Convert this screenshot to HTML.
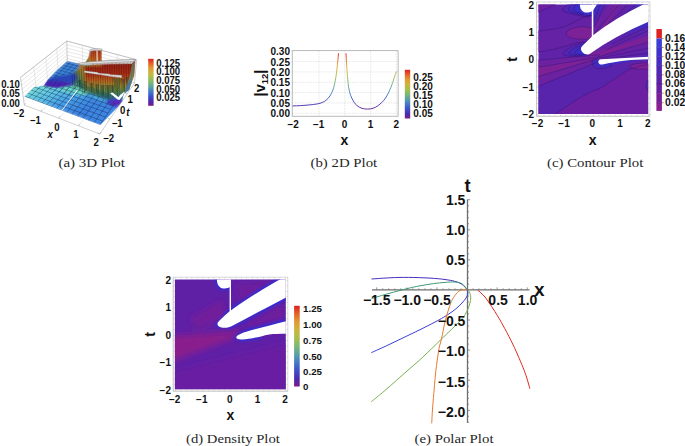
<!DOCTYPE html>
<html>
<head>
<meta charset="utf-8">
<title>Plots</title>
<style>
html,body{margin:0;padding:0;background:#fff;}
body{width:685px;height:446px;overflow:hidden;}
svg{display:block;}
.tk{font-family:"Liberation Sans",sans-serif;font-weight:bold;font-size:10px;fill:#111;}
.tk3{font-family:"Liberation Sans",sans-serif;font-weight:bold;font-size:9.6px;fill:#111;}
.tkp{font-family:"Liberation Sans",sans-serif;font-weight:bold;font-size:14px;fill:#111;}
.ax{font-family:"Liberation Sans",sans-serif;font-weight:bold;font-size:14px;fill:#111;}
.cap{font-family:"Liberation Serif",serif;font-size:13px;fill:#262626;}
</style>
</head>
<body>
<svg width="685" height="446" viewBox="0 0 685 446">
<defs>
<linearGradient id="rainbowV" x1="0" y1="1" x2="0" y2="0">
<stop offset="0" stop-color="#781c86"/>
<stop offset="0.1" stop-color="#4a2cb0"/>
<stop offset="0.2" stop-color="#3f4fcb"/>
<stop offset="0.3" stop-color="#447bc8"/>
<stop offset="0.4" stop-color="#5ba1a6"/>
<stop offset="0.5" stop-color="#7db874"/>
<stop offset="0.6" stop-color="#a7be4e"/>
<stop offset="0.7" stop-color="#cdb43d"/>
<stop offset="0.8" stop-color="#e39a33"/>
<stop offset="0.9" stop-color="#e4632a"/>
<stop offset="1" stop-color="#db2121"/>
</linearGradient>
</defs>
<rect x="0" y="0" width="685" height="446" fill="#ffffff"/>

<!-- ===================== (a) 3D Plot ===================== -->
<g id="plotA">
<defs>
<linearGradient id="gAwall" gradientUnits="userSpaceOnUse" x1="0" y1="63" x2="0" y2="103"><stop offset="0" stop-color="#962214"/><stop offset="0.27" stop-color="#ac2e18"/><stop offset="0.42" stop-color="#ba5c20"/><stop offset="0.54" stop-color="#a4842e"/><stop offset="0.68" stop-color="#668a44"/><stop offset="0.82" stop-color="#357c7a"/><stop offset="0.94" stop-color="#3566b8"/><stop offset="1" stop-color="#3a5ccc"/></linearGradient>
<linearGradient id="gAff" gradientUnits="userSpaceOnUse" x1="48" y1="84" x2="64" y2="120"><stop offset="0" stop-color="#72d8dc"/><stop offset="0.3" stop-color="#5cc0e6"/><stop offset="0.6" stop-color="#469ce6"/><stop offset="1" stop-color="#3a80e0"/></linearGradient>
<linearGradient id="gAsv" gradientUnits="userSpaceOnUse" x1="0" y1="73" x2="0" y2="89"><stop offset="0" stop-color="#2f68cc"/><stop offset="0.4" stop-color="#2a40b8"/><stop offset="0.8" stop-color="#4a22b0"/><stop offset="1" stop-color="#3c34c4"/></linearGradient>
<linearGradient id="gAwl" gradientUnits="userSpaceOnUse" x1="68" y1="84" x2="90" y2="68"><stop offset="0" stop-color="#2a4cb4"/><stop offset="0.22" stop-color="#2c6c80"/><stop offset="0.48" stop-color="#587e44"/><stop offset="0.72" stop-color="#a47c2c"/><stop offset="1" stop-color="#b4481c"/></linearGradient>
<linearGradient id="gAtow" gradientUnits="userSpaceOnUse" x1="0" y1="49" x2="0" y2="64"><stop offset="0" stop-color="#a8341a"/><stop offset="0.5" stop-color="#bc501e"/><stop offset="1" stop-color="#b87428"/></linearGradient>
<linearGradient id="gAsk" gradientUnits="userSpaceOnUse" x1="80" y1="65" x2="91" y2="54"><stop offset="0" stop-color="#3a7a6a"/><stop offset="0.4" stop-color="#748034"/><stop offset="0.75" stop-color="#a8702a"/><stop offset="1" stop-color="#b4501e"/></linearGradient>
<clipPath id="clipFF"><polygon points="24.7,96.7 34.2,87.3 43.6,86.2 58.4,88.0 70.0,85.0 78.0,84.0 86.0,90.0 98.0,95.0 106.0,100.0 117.0,104.0 117.9,106.6 100.4,124.8"/></clipPath>
<clipPath id="clipBL"><polygon points="49.1,78.4 67.3,60.9 79.8,63.9 78.1,68.0 72.7,73.6 62.1,76.0"/></clipPath>
<clipPath id="clipSil"><polygon points="24.5,96.7 34.2,87.0 43.6,85.4 49.1,78.0 55.8,70.8 67.3,60.7 81.0,64.0 85.0,62.5 88.0,58.0 89.7,51.0 89.7,49.8 101.9,49.3 101.9,62.2 135.6,59.4 134.4,75.0 129.2,90.0 124.5,93.0 123.2,96.5 122.4,101.6 118.1,106.8 100.4,125.0"/></clipPath>
<filter id="blA" x="-10%" y="-10%" width="120%" height="120%"><feGaussianBlur stdDeviation="1.1"/></filter>
<filter id="blA2" x="-10%" y="-10%" width="120%" height="120%"><feGaussianBlur stdDeviation="0.35"/></filter>
</defs>
<g stroke="#cecece" stroke-width="0.45" fill="none">
<line x1="20.5" y1="77.4" x2="66.8" y2="41.0"/>
<line x1="21.0" y1="81.3" x2="66.9" y2="44.5"/>
<line x1="21.6" y1="85.3" x2="67.0" y2="48.0"/>
<line x1="22.1" y1="89.2" x2="67.1" y2="51.5"/>
<line x1="22.7" y1="93.2" x2="67.2" y2="55.0"/>
<line x1="23.2" y1="97.1" x2="67.3" y2="58.5"/>
<line x1="23.8" y1="101.1" x2="67.4" y2="62.0"/>
<line x1="33.8" y1="67.0" x2="36.7" y2="93.7"/>
<line x1="45.8" y1="57.5" x2="47.9" y2="83.4"/>
<line x1="56.8" y1="48.9" x2="58.2" y2="74.0"/>
<line x1="66.8" y1="41.0" x2="136.7" y2="59.8"/>
<line x1="66.9" y1="44.5" x2="136.4" y2="63.1"/>
<line x1="67.0" y1="48.0" x2="136.1" y2="66.4"/>
<line x1="67.1" y1="51.5" x2="135.8" y2="69.8"/>
<line x1="67.2" y1="55.0" x2="135.4" y2="73.0"/>
<line x1="67.3" y1="58.5" x2="135.1" y2="76.4"/>
<line x1="67.4" y1="62.0" x2="134.8" y2="79.7"/>
<line x1="82.5" y1="45.2" x2="82.6" y2="69.4"/>
<line x1="99.4" y1="49.8" x2="98.7" y2="73.7"/>
<line x1="117.4" y1="54.6" x2="116.0" y2="78.2"/>
<line x1="40.9" y1="111.4" x2="45.9" y2="106.4"/>
<line x1="58.9" y1="118.3" x2="63.7" y2="112.9"/>
<line x1="78.5" y1="125.8" x2="83.0" y2="120.1"/>
</g>
<g stroke="#a2a2a2" stroke-width="0.55" fill="none">
<path d="M20.5,77.4 L66.8,41 L136.7,59.8 M66.8,41 L67.3,62 M20.5,77.4 L24.3,105"/>
</g>
<g clip-path="url(#clipSil)"><g filter="url(#blA)">
<polygon points="24.5,96.7 34.2,87.0 43.6,85.4 49.1,78.0 55.8,70.8 67.3,60.7 81.0,64.0 85.0,62.5 88.0,58.0 89.7,51.0 89.7,49.8 101.9,49.3 101.9,62.2 135.6,59.4 134.4,75.0 129.2,90.0 124.5,93.0 123.2,96.5 122.4,101.6 118.1,106.8 100.4,125.0" fill="#3b82d8"/>
<polygon points="49.1,78.4 67.3,60.9 79.8,63.9 78.1,68.0 72.7,73.6 62.1,76.0" fill="#3b82da"/>
<polygon points="47.0,78.4 62.1,76.0 72.7,73.6 80.0,76.0 79.0,87.0 73.5,88.0 58.4,89.5 42.0,87.5" fill="url(#gAsv)"/>
<polygon points="68.0,76.0 72.7,73.6 78.1,68.0 79.8,63.9 84.0,65.5 91.0,66.0 91.0,96.0 81.5,92.5 76.0,88.5 66.0,88.5" fill="url(#gAwl)"/>
<polygon points="85.0,64.0 136.0,60.0 135.0,75.0 130.0,90.0 125.0,94.0 123.0,99.0 119.0,103.0 116.5,104.6 104.4,101.9 96.3,97.2 88.0,94.6 85.0,93.3" fill="url(#gAwall)"/>
<path d="M79.8,64.5 C85,63.5 88,59 89.9,51.5 L91,66 L84,66 Z" fill="url(#gAsk)"/>
<polygon points="89.9,66 89.9,49.8 101.9,49.3 101.9,66" fill="url(#gAtow)"/>
<polygon points="24.7,96.7 34.2,87.3 43.6,86.6 58.4,88.6 73.5,87.1 81.5,92.5 96.3,97.2 104.4,101.9 116.5,104.6 117.9,106.6 100.4,124.8" fill="url(#gAff)"/>
<polygon points="44.5,86 50,81.5 62,82.3 72.7,83.5 71,87.6 58,88.9 49,87.6" fill="#4a24b0"/>
<polygon points="50.3,80 53.9,76.4 65.6,75.2 76.2,72.9 77.4,78.6 72.7,83 62.1,81.6" fill="#2a44b6"/>
</g></g>
<polygon points="24.7,96.7 34.2,87.3 43.6,86.6 58.4,88.6 70,87.6 67,97 50,101" fill="url(#gAff)"/>
<g clip-path="url(#clipSil)"><g filter="url(#blA)">
<polygon points="88,94 104.4,101.9 117.9,106.6 100.4,124.8 84,118 96,104" fill="#3d86e2"/>
<polygon points="56,88.5 68,86 76,84.5 82,89 88,93 84,96 72,93.5 62,91.5" fill="#68d4cc"/>
<polygon points="72,86.5 77,84 84,89.5 90,93 86,93.5 80,91" fill="#62c09a"/>
<polygon points="86,92 98,96 108,100.5 104,102 92,97.5" fill="#4aa8d8"/>
<polygon points="107,101 113,99 122.4,99.5 122.4,101.8 118,107.2 112,106.5 108,104" fill="#4434c4"/>
<polygon points="111,101.8 117,100.6 121.8,101.2 118.5,105 113,104.6" fill="#5a2cb4"/>
</g></g>
<g clip-path="url(#clipSil)"><g filter="url(#blA2)">
<g stroke="#200a04" stroke-width="0.6" stroke-opacity="0.5" fill="none">
<line x1="72.0" y1="74.0" x2="72.9" y2="86.8"/>
<line x1="74.3" y1="72.6" x2="75.2" y2="88.6"/>
<line x1="76.7" y1="71.2" x2="77.6" y2="87.6"/>
<line x1="79.0" y1="69.8" x2="79.9" y2="89.7"/>
<line x1="81.4" y1="68.4" x2="82.3" y2="92.7"/>
<line x1="83.7" y1="67.0" x2="84.6" y2="93.8"/>
<line x1="86.1" y1="65.4" x2="87.0" y2="90.9"/>
<line x1="88.4" y1="65.3" x2="89.3" y2="91.8"/>
<line x1="90.8" y1="65.1" x2="91.7" y2="91.5"/>
<line x1="93.1" y1="64.9" x2="94.0" y2="94.0"/>
<line x1="95.5" y1="64.8" x2="96.4" y2="92.5"/>
<line x1="97.8" y1="64.6" x2="98.7" y2="95.1"/>
<line x1="100.2" y1="64.4" x2="101.1" y2="96.6"/>
<line x1="102.5" y1="64.3" x2="103.4" y2="95.3"/>
<line x1="104.9" y1="64.1" x2="105.8" y2="97.8"/>
<line x1="107.2" y1="63.9" x2="108.1" y2="97.8"/>
<line x1="109.6" y1="63.8" x2="110.5" y2="95.5"/>
<line x1="111.9" y1="63.6" x2="112.8" y2="98.7"/>
<line x1="114.3" y1="63.4" x2="115.2" y2="97.7"/>
<line x1="116.6" y1="63.3" x2="117.5" y2="98.5"/>
<line x1="119.0" y1="63.1" x2="119.9" y2="95.7"/>
<line x1="121.3" y1="63.0" x2="122.2" y2="95.7"/>
<line x1="123.7" y1="62.8" x2="124.6" y2="92.3"/>
<line x1="126.0" y1="62.6" x2="126.9" y2="88.7"/>
<line x1="128.4" y1="62.5" x2="129.3" y2="88.6"/>
<line x1="130.7" y1="62.3" x2="131.6" y2="87.6"/>
<line x1="133.1" y1="62.1" x2="134.0" y2="83.1"/>
</g>
<g fill="#14302c" fill-opacity="0.42">
<polygon points="80.0,90.0 78.0,80.0 81.2,80.0"/>
<polygon points="86.0,93.0 83.8,81.0 87.3,81.0"/>
<polygon points="92.0,96.0 89.6,83.0 93.4,83.0"/>
<polygon points="97.5,98.0 95.1,84.0 98.9,84.0"/>
<polygon points="103.0,100.0 100.4,85.0 104.6,85.0"/>
<polygon points="108.5,101.0 105.9,85.0 110.1,85.0"/>
<polygon points="113.0,99.0 110.6,85.0 114.4,85.0"/>
<polygon points="124.0,93.0 121.6,79.0 125.4,79.0"/>
<polygon points="127.5,90.0 125.3,77.0 128.8,77.0"/>
</g>
<polygon points="78,86 84,90 96,94.5 106,99 112,100 112,96 100,90 88,86 80,82" fill="#1e4a4a" fill-opacity="0.3"/>
</g></g>
<g stroke="#0c1a3c" stroke-width="0.45" stroke-opacity="0.8" fill="none" clip-path="url(#clipFF)">
<line x1="24.3" y1="96.2" x2="54.2" y2="68.9"/>
<line x1="28.6" y1="97.9" x2="58.2" y2="70.1"/>
<line x1="33.0" y1="99.5" x2="62.4" y2="71.3"/>
<line x1="37.5" y1="101.3" x2="66.6" y2="72.6"/>
<line x1="42.1" y1="103.0" x2="70.9" y2="73.8"/>
<line x1="46.7" y1="104.8" x2="75.2" y2="75.1"/>
<line x1="51.5" y1="106.7" x2="79.7" y2="76.5"/>
<line x1="56.4" y1="108.5" x2="84.2" y2="77.8"/>
<line x1="61.4" y1="110.5" x2="88.9" y2="79.2"/>
<line x1="66.5" y1="112.4" x2="93.6" y2="80.6"/>
<line x1="71.7" y1="114.4" x2="98.4" y2="82.0"/>
<line x1="77.1" y1="116.5" x2="103.3" y2="83.5"/>
<line x1="82.6" y1="118.6" x2="108.3" y2="85.0"/>
<line x1="88.2" y1="120.7" x2="113.5" y2="86.5"/>
<line x1="93.9" y1="122.9" x2="118.7" y2="88.0"/>
<line x1="99.8" y1="125.2" x2="124.0" y2="89.6"/>
<line x1="24.3" y1="96.2" x2="99.8" y2="125.2"/>
<line x1="27.7" y1="93.1" x2="102.6" y2="121.0"/>
<line x1="31.1" y1="90.0" x2="105.4" y2="117.0"/>
<line x1="34.3" y1="87.0" x2="108.0" y2="113.1"/>
<line x1="37.5" y1="84.2" x2="110.6" y2="109.3"/>
<line x1="40.6" y1="81.3" x2="113.1" y2="105.6"/>
<line x1="43.6" y1="78.6" x2="115.5" y2="102.1"/>
<line x1="46.5" y1="75.9" x2="117.9" y2="98.6"/>
<line x1="49.3" y1="73.3" x2="120.2" y2="95.3"/>
<line x1="52.1" y1="70.8" x2="122.4" y2="92.0"/>
</g>
<g stroke="#0c1a3c" stroke-width="0.4" stroke-opacity="0.75" fill="none" clip-path="url(#clipBL)">
<line x1="42.4" y1="83.4" x2="67.5" y2="60.5"/>
<line x1="46.6" y1="84.8" x2="71.4" y2="61.5"/>
<line x1="50.9" y1="86.2" x2="75.4" y2="62.6"/>
<line x1="55.2" y1="87.6" x2="79.5" y2="63.6"/>
<line x1="59.6" y1="89.1" x2="83.6" y2="64.7"/>
<line x1="64.1" y1="90.5" x2="87.8" y2="65.8"/>
<line x1="68.7" y1="92.1" x2="92.1" y2="66.9"/>
<line x1="73.4" y1="93.6" x2="96.5" y2="68.1"/>
<line x1="43.6" y1="82.4" x2="85.9" y2="96.2"/>
<line x1="46.5" y1="79.7" x2="88.5" y2="93.1"/>
<line x1="49.3" y1="77.1" x2="91.1" y2="90.0"/>
<line x1="52.1" y1="74.6" x2="93.6" y2="87.1"/>
<line x1="54.8" y1="72.1" x2="96.0" y2="84.2"/>
<line x1="57.5" y1="69.6" x2="98.3" y2="81.4"/>
<line x1="60.1" y1="67.3" x2="100.6" y2="78.7"/>
<line x1="62.6" y1="65.0" x2="102.9" y2="76.0"/>
<line x1="65.1" y1="62.7" x2="105.1" y2="73.4"/>
<line x1="67.5" y1="60.5" x2="107.2" y2="70.9"/>
</g>
<g stroke="#0c1430" stroke-width="0.4" stroke-opacity="0.55" fill="none">
<line x1="53.1" y1="78.7" x2="46.0" y2="88.8"/>
<line x1="57.3" y1="80.0" x2="50.3" y2="90.2"/>
<line x1="61.5" y1="81.3" x2="54.6" y2="91.6"/>
<line x1="65.9" y1="82.7" x2="59.0" y2="93.1"/>
<line x1="70.3" y1="84.1" x2="63.6" y2="94.6"/>
<line x1="74.8" y1="85.5" x2="68.2" y2="96.1"/>
</g>
<g stroke="#200a04" stroke-width="0.5" stroke-opacity="0.35" fill="none"><path d="M91.5,51 L91.8,62 M93.6,51 L94,62 M95.4,51 L95.8,62 M99,51 L99.4,62 M100.8,51 L101,62 M88,58 L87.4,63.5 M85.5,62 L84.6,64"/></g>
<line x1="97" y1="50" x2="97.2" y2="62.5" stroke="#ffffff" stroke-width="0.9"/>
<path d="M89.4,50.4 C91,48.5 95,48 102,48.9 L102,50.7 C96,50.3 92,50.7 89.4,51.8 Z" fill="#cfcfcf" stroke="#666" stroke-width="0.25"/>
<polygon points="76.7,63.4 90.9,61.6 110,60.3 135.4,59.2 135.4,60.6 131.6,64 110,64.2 84.7,65.4 76.7,64.2" fill="#c6c6c6" stroke="#555" stroke-width="0.3"/>
<path d="M80,63.6 L110,61.8 L133,60.6" stroke="#ededed" stroke-width="0.8" fill="none"/>
<path d="M78,64.1 L110,62.8 L134,61.4" stroke="#6a6a6a" stroke-width="0.25" fill="none"/>
<path d="M92,64.4 L131,63.3" stroke="#d04a34" stroke-width="0.45" stroke-dasharray="2.2 1.6" fill="none"/>
<polygon points="84.2,70.7 98,72.3 98,72.9 110,74 110,74.6 121.8,75.3 121.8,77.9 110,76.6 100.8,74.9 84.2,72.6" fill="#dedede" stroke="#5a5a5a" stroke-width="0.3"/>
<path d="M100,74.5 L121,77.4" stroke="#d04a34" stroke-width="0.35" stroke-dasharray="2 1.6" fill="none"/>
<g filter="url(#blA2)"><polygon points="135,62 134.2,75 129.2,90 126.5,88 130.5,72 132,64" fill="#5aa070" opacity="0.6"/>
<polygon points="132.5,76 129.2,90 125,93.5 126.5,86" fill="#3a6cc0" opacity="0.7"/></g>
<g filter="url(#blA2)"><polygon points="112.5,78 121.8,78.4 117.5,96.5" fill="#3c5a28" fill-opacity="0.55"/></g>
<polygon points="110,93.2 112.5,92.6 118.6,97.2 120,95 124.6,91.6 123,95.5 119.4,100 117.6,99.4" fill="#ffffff"/>
<line x1="61.3" y1="111.3" x2="77.5" y2="89.8" stroke="#ffffff" stroke-width="0.9"/>
<g stroke="#a8a8a8" stroke-width="0.55" fill="none">
<path d="M24.3,105 L99.8,134 L134.5,83 L136.7,59.8"/>
</g>
<g stroke="#9a9a9a" stroke-width="0.5" fill="none">
<line x1="24.3" y1="105.0" x2="25.5" y2="103.0"/>
<line x1="40.9" y1="111.4" x2="42.1" y2="109.4"/>
<line x1="58.9" y1="118.3" x2="60.1" y2="116.3"/>
<line x1="78.5" y1="125.8" x2="79.7" y2="123.8"/>
<line x1="99.8" y1="134.0" x2="101.0" y2="132.0"/>
<line x1="99.8" y1="134.0" x2="97.6" y2="133.2"/>
<line x1="110.0" y1="119.0" x2="107.8" y2="118.2"/>
<line x1="119.0" y1="105.7" x2="116.8" y2="104.9"/>
<line x1="127.2" y1="93.8" x2="125.0" y2="93.0"/>
<line x1="134.5" y1="83.0" x2="132.3" y2="82.2"/>
</g>
<g class="tk3">
<text transform="translate(19.8,88.0) scale(1,1.09)" text-anchor="end">0.10</text>
<text transform="translate(19.8,97.4) scale(1,1.09)" text-anchor="end">0.05</text>
<text transform="translate(19.8,106.6) scale(1,1.09)" text-anchor="end">0.00</text>
<text transform="translate(18.8,116.9) scale(1,1.09)" text-anchor="middle">−2</text>
<text transform="translate(35.3,123.5) scale(1,1.09)" text-anchor="middle">−1</text>
<text transform="translate(56.8,130.6) scale(1,1.09)" text-anchor="middle">0</text>
<text transform="translate(75.8,138.0) scale(1,1.09)" text-anchor="middle">1</text>
<text transform="translate(96.1,145.5) scale(1,1.09)" text-anchor="middle">2</text>
<text transform="translate(108.5,141.8) scale(1,1.09)" text-anchor="middle">−2</text>
<text transform="translate(117.1,126.9) scale(1,1.09)" text-anchor="middle">−1</text>
<text transform="translate(122.6,114.3) scale(1,1.09)" text-anchor="middle">0</text>
<text transform="translate(130.1,102.5) scale(1,1.09)" text-anchor="middle">1</text>
<text transform="translate(136.7,92.3) scale(1,1.09)" text-anchor="middle">2</text>
<text transform="translate(50.2,138.3) scale(1,1.09)" text-anchor="middle" font-style="italic">x</text>
<text transform="translate(127.8,115.9) scale(1,1.09)" text-anchor="middle" font-style="italic">t</text>
</g>
<rect x="148.2" y="58.8" width="5.4" height="47" fill="url(#rainbowV)"/>
<g class="tk3">
<text transform="translate(156.2,66.9) scale(1,1.09)" text-anchor="start">0.125</text>
<text transform="translate(156.2,75.3) scale(1,1.09)" text-anchor="start">0.100</text>
<text transform="translate(156.2,84.0) scale(1,1.09)" text-anchor="start">0.075</text>
<text transform="translate(156.2,92.7) scale(1,1.09)" text-anchor="start">0.050</text>
<text transform="translate(156.2,101.2) scale(1,1.09)" text-anchor="start">0.025</text>
</g>
</g>

<!-- ===================== (b) 2D Plot ===================== -->
<g id="plotB">
<defs>
<linearGradient id="gB" gradientUnits="userSpaceOnUse" x1="0" y1="111" x2="0" y2="53">
<stop offset="0" stop-color="#781c86"/>
<stop offset="0.1" stop-color="#4a2cb0"/>
<stop offset="0.2" stop-color="#3f4fcb"/>
<stop offset="0.3" stop-color="#447bc8"/>
<stop offset="0.4" stop-color="#5ba1a6"/>
<stop offset="0.5" stop-color="#7db874"/>
<stop offset="0.6" stop-color="#a7be4e"/>
<stop offset="0.7" stop-color="#cdb43d"/>
<stop offset="0.8" stop-color="#e39a33"/>
<stop offset="0.9" stop-color="#e4632a"/>
<stop offset="1" stop-color="#db2121"/>
</linearGradient>
</defs>
<!-- grid -->
<g stroke="#d4d4d4" stroke-width="0.55" stroke-dasharray="1.6 1" fill="none">
<line x1="292.2" y1="61.6" x2="398.1" y2="61.6"/>
<line x1="292.2" y1="71.9" x2="398.1" y2="71.9"/>
<line x1="292.2" y1="82.3" x2="398.1" y2="82.3"/>
<line x1="292.2" y1="92.6" x2="398.1" y2="92.6"/>
<line x1="292.2" y1="102.9" x2="398.1" y2="102.9"/>
<line x1="292.2" y1="113.2" x2="398.1" y2="113.2"/>
<line x1="318.9" y1="50.7" x2="318.9" y2="116.2"/>
<line x1="344.8" y1="50.7" x2="344.8" y2="116.2"/>
<line x1="370.6" y1="50.7" x2="370.6" y2="116.2"/>
<line x1="396.3" y1="50.7" x2="396.3" y2="116.2"/>
</g>
<rect x="292.2" y="50.7" width="105.9" height="65.5" fill="none" stroke="#9a9a9a" stroke-width="0.7"/>
<!-- curves -->
<path d="M292.6,105.9 C298,105.8 303,105.5 307.1,105.1 C312,104.7 315.5,104.3 318.9,103.6 C322,102.8 324,101.8 325.9,100.4 C327.8,99 329.3,97.2 330.6,94.9 C332.3,92 333.6,88.5 334.6,84 C335.6,79.5 336.3,75 336.9,69.8 C337.6,63.5 338.1,58 338.5,53.3" fill="none" stroke="url(#gB)" stroke-width="0.95"/>
<path d="M346,53.3 C346.3,60 346.7,66 347.1,71.4 C347.5,77 348,82.5 348.6,87.1 C349.3,91.5 350.3,95 351.8,98.1 C353.3,101.3 355,103.8 357.3,105.9 C360,108 363.5,109.1 367.5,109.1 C371.5,109.1 375,107.9 377.7,105.9 C380.7,103.7 383.3,101.3 385.5,98.1 C387.7,94.8 389.5,91.2 391,87.1 C392.3,83.8 393.3,80.8 394.2,77.7 C395,75.2 395.8,73.2 396.5,71.4" fill="none" stroke="url(#gB)" stroke-width="0.95"/>
<!-- y tick labels -->
<g class="tk" text-anchor="end">
<text x="290" y="55.4">0.30</text>
<text x="290" y="65.7">0.25</text>
<text x="290" y="76">0.20</text>
<text x="290" y="86.2">0.15</text>
<text x="290" y="96.5">0.10</text>
<text x="290" y="106.7">0.05</text>
<text x="290" y="117">0.00</text>
</g>
<!-- x tick labels -->
<g class="tk" text-anchor="middle">
<text x="293.2" y="127.5">−2</text>
<text x="318.7" y="127.5">−1</text>
<text x="344.5" y="127.5">0</text>
<text x="370.6" y="127.5">1</text>
<text x="396.2" y="127.5">2</text>
</g>
<text class="ax" x="344.5" y="144.5" text-anchor="middle">x</text>
<text class="ax" transform="translate(265.2,83) rotate(-90)" text-anchor="middle" style="font-size:14.5px">|v<tspan font-size="9.5" dy="3">12</tspan><tspan dy="-3">|</tspan></text>
<!-- colorbar -->
<rect x="404.8" y="69.8" width="5.4" height="48.7" fill="url(#rainbowV)"/>
<g class="tk">
<text x="413.3" y="80.7">0.25</text>
<text x="413.3" y="89.7">0.20</text>
<text x="413.3" y="98.7">0.15</text>
<text x="413.3" y="107.6">0.10</text>
<text x="413.3" y="116.6">0.05</text>
</g>
</g>

<!-- ===================== (c) Contour Plot ===================== -->
<g id="plotC">
<defs>
<clipPath id="clipC"><rect x="538.5" y="4.4" width="109.6" height="109.7"/></clipPath>
<linearGradient id="gCw1" gradientUnits="userSpaceOnUse" x1="598" y1="10" x2="626" y2="27">
<stop offset="0" stop-color="#3e2cc2"/>
<stop offset="0.07" stop-color="#5624ae"/>
<stop offset="0.2" stop-color="#6022a8"/>
<stop offset="0.36" stop-color="#6c22a0"/>
<stop offset="0.42" stop-color="#7a2298"/>
<stop offset="0.5" stop-color="#6a22a2"/>
<stop offset="0.7" stop-color="#5e22a8"/>
<stop offset="0.9" stop-color="#5226b0"/>
<stop offset="1" stop-color="#3e2cc2"/>
</linearGradient>
<linearGradient id="gCw2" gradientUnits="userSpaceOnUse" x1="622" y1="32" x2="630" y2="62">
<stop offset="0" stop-color="#3e2cc2"/>
<stop offset="0.08" stop-color="#5426ae"/>
<stop offset="0.3" stop-color="#6022a8"/>
<stop offset="0.46" stop-color="#7a2298"/>
<stop offset="0.6" stop-color="#6622a4"/>
<stop offset="0.88" stop-color="#5a24ac"/>
<stop offset="1" stop-color="#4a28b8"/>
</linearGradient>
</defs>
<g clip-path="url(#clipC)">
<rect x="538" y="4" width="111" height="111" fill="#5f22a8"/>
<!-- top-left corner region -->
<path d="M538,4 L556,4 C550,7 543,10 538,12.5 Z" fill="#6a20a0"/>
<!-- band between contour 31 and 52 -->
<path d="M538,31 C548,30 556,29 563,27 C570,24.5 576,21.5 581,18.5 C585,16.5 590,15.5 593,15 L593,43 C586,42 580,42 576,43 C570,45 565,46.5 563,47 C555,49 546,51 538,52 Z" fill="#6622a4"/>
<!-- magenta ellipse -->
<path d="M566.3,33.5 C567,29.5 574,27 582,26.8 C588,26.8 592,28 593,29 L593,38 C588,39.5 580,39.5 574,38.5 C569,37.5 566,36 566.3,33.5 Z" fill="#7c2296"/>
<!-- blue tongues near top blob -->
<path d="M568,4 C564,6.5 562.5,9 563,10.2 C564,12 570,13.5 576,15 C581,16.2 586,17 590,17 L593,17 L593,4 Z" fill="#5226b0"/>
<path d="M572,4 C569,6.5 568,9 568.8,10.2 C570,12 575,13.5 580,14.5 C584,15.3 588,15.8 593,15.8 L593,4 Z" fill="#4629ba"/>
<path d="M576,4 C574,6.5 573.5,9 574.3,10.4 C575.5,12.3 580,13.5 584,14.2 L593,14.6 L593,4 Z" fill="#3a2cc6"/>
<!-- blue tongues near band1 tip -->
<path d="M593,41 C585,41.5 578,43.5 572,46.5 C566,49.5 562.5,52.5 563,54.3 C563.5,56 570,56.3 578,56.3 L592,56.5 Z" fill="#5226b0"/>
<path d="M592,42.5 C586,43 580,45 575.5,47.5 C571,50 568.5,52.5 569,53.8 C569.5,55 575,55.5 582,55.5 L592,55.5 Z" fill="#4629ba"/>
<path d="M590,44 C586,44.8 582,46.5 579,48.5 C576,50.5 574.5,52.3 575,53.3 C575.6,54.4 580,54.8 586,54.8 L592,54.5 Z" fill="#3a2cc6"/>
<!-- fan of wedges to the left -->
<path d="M538,60.2 L600,54.7 L600,57 L538,67.3 Z" fill="#6c22a0"/>
<path d="M538,67.3 L600,57 L598,58.5 L538,76.7 Z" fill="#7c2296"/>
<path d="M538,76.7 L598,58.5 L600,61 L538,86.4 Z" fill="#6c22a0"/>
<path d="M538,86.4 L600,61 C604,59.5 608,62 612,66 L649,64.5 L649,115 L538,115 Z" fill="#5824ac"/>
<!-- lower-right region under line 5 -->
<path d="M554.2,115 C562,109 570,104 578,99 C586,94 593,90.5 600,88.5 C610,82 620,75 628,70 C636,66.5 643,65 649,64.5 L649,115 Z" fill="#6a20a0"/>
<!-- blue halo around band 2 tip -->
<path d="M612,66 C606,68 600,69.5 596,68 C592,66 591,62 593,59.5 C595,57.5 599,57 604,57 L640,56 L649,56 L649,60 C636,61 622,63 612,66 Z" fill="#5226b0"/>
<path d="M608,66 C603,67.5 599,67.5 596.5,66 C594,64 594,61 596,59.3 C598,58 601,57.5 605,57.5 L640,56.5 L640,60 C628,61.5 616,63.5 608,66 Z" fill="#3f2cc2"/>
<!-- small magenta blob lower right -->
<path d="M630,66 C634,63.5 642,62.5 649,63 L649,69 C642,69.5 634,69 631,68 Z" fill="#7c2296"/>
<path d="M646,84 C647,81 648,80 649,80 L649,92 C647.5,91 646,88 646,84 Z" fill="#5226b0"/>
<!-- wedge between bands (upper) -->
<polygon points="593.4,4 650,4 650,4.4 620,20 593.4,40" fill="url(#gCw1)"/>
<!-- wedge between bands (middle) -->
<polygon points="650,18 650,60 596,60 586,54" fill="url(#gCw2)"/>
<!-- contour lines -->
<g fill="none" stroke="#2b0f66" stroke-width="0.45" stroke-opacity="0.75">
<path d="M556,4 C550,7 543,10 538,12.5"/>
<path d="M538,31 C548,30 556,29 563,27 C570,24.5 576,21.5 581,18.5 C585,16.5 590,15.5 593,15"/>
<path d="M538,52 C546,51 555,49 563,47 C565,46.5 570,45 576,43 C580,42 586,42 593,43"/>
<path d="M566.3,33.5 C567,29.5 574,27 582,26.8 C588,26.8 592,28 593,29 M593,38 C588,39.5 580,39.5 574,38.5 C569,37.5 566,36 566.3,33.5"/>
<path d="M568,4 C564,6.5 562.5,9 563,10.2 C564,12 570,13.5 576,15 C581,16.2 586,17 590,17"/>
<path d="M572,4 C569,6.5 568,9 568.8,10.2 C570,12 575,13.5 580,14.5 C584,15.3 588,15.8 593,15.8"/>
<path d="M576,4 C574,6.5 573.5,9 574.3,10.4 C575.5,12.3 580,13.5 584,14.2"/>
<path d="M593,41 C585,41.5 578,43.5 572,46.5 C566,49.5 562.5,52.5 563,54.3 C563.5,56 570,56.3 578,56.3"/>
<path d="M592,42.5 C586,43 580,45 575.5,47.5 C571,50 568.5,52.5 569,53.8 C569.5,55 575,55.5 582,55.5"/>
<path d="M590,44 C586,44.8 582,46.5 579,48.5 C576,50.5 574.5,52.3 575,53.3 C575.6,54.4 580,54.8 586,54.8"/>
<path d="M538,60.2 L600,54.7"/>
<path d="M538,67.3 L600,57"/>
<path d="M538,76.7 L598,58.5"/>
<path d="M538,86.4 L600,61 C604,59.5 608,62 612,66"/>
<path d="M554.2,115 C562,109 570,104 578,99 C586,94 593,90.5 600,88.5 C610,82 620,75 628,70 C636,66.5 643,65 649,64.5"/>
<path d="M612,66 C606,68 600,69.5 596,68 C592,66 591,62 593,59.5"/>
<path d="M630,66 C634,63.5 642,62.5 649,63 M649,69 C642,69.5 634,69 631,68 L630,66"/>
<path d="M646,84 C647,81 648,80 649,80 M649,92 C647.5,91 646,88 646,84"/>
<path d="M600.5,4.4 L593.6,22 M605,4.4 L594,27 M619,4.4 L595,33 M628,4.4 L596,36 M636,4.4 L598,37.5"/>
<path d="M649,26 L612,44 M649,30 L606,50 M649,42 L598,57 M649,48 L600,58 M649,53 L604,59"/>
<path d="M610.9,4.4 L594,30" stroke="#a01f80" stroke-opacity="0.9" stroke-width="0.7"/>
<path d="M649,36 L600,55" stroke="#a01f80" stroke-opacity="0.9" stroke-width="0.7"/>
</g>
<!-- white regions -->
<g fill="#ffffff">
<!-- top blob (band 0 tip) -->
<path d="M579.8,4 C579.8,8 581.5,11.5 585,12.4 C588,13 591,12.2 593,10.5 L597.2,4 Z"/>
<!-- vertical gap -->
<rect x="591.8" y="4" width="1.5" height="36"/>
<!-- band 1 -->
<path d="M644.2,4 L650,4 L650,21.2 Q614.9,36 590,53.8 C588,55 584.5,54.4 582.5,52.2 C580.5,50 580.3,47.6 583,45.2 C587,41.8 590,38 593.4,35 Q615.5,17.9 644.2,4 Z"/>
<!-- band 2 -->
<path d="M650,56.7 L601,59.2 C599,59.4 598.2,60.8 598.3,62 C598.5,63.8 600,64.9 602.5,64.5 C610,62.8 618,61.5 626,60.6 C632,59.8 640,59.3 650,59.2 Z"/>
</g>
</g>
<!-- frame -->
<g stroke="#a8a8a8" stroke-width="0.7" fill="none">
<line x1="536.6" y1="1.9" x2="536.6" y2="116.5"/>
<line x1="536.6" y1="116.3" x2="650" y2="116.3"/>
</g>
<g stroke="#bdbdbd" stroke-width="0.6" fill="none">
<line x1="536.6" y1="1.9" x2="650" y2="1.9"/>
<line x1="650" y1="1.9" x2="650" y2="116.5"/>
</g>
<!-- ticks -->
<g stroke="#9a9a9a" stroke-width="0.6" stroke-dasharray="0.7 4.78">
<line x1="538.2" y1="2.8" x2="649" y2="2.8"/>
<line x1="538.2" y1="115.4" x2="649" y2="115.4"/>
</g>
<g stroke="#9a9a9a" stroke-width="0.6" stroke-dasharray="0.7 4.76">
<line x1="537.5" y1="4.9" x2="537.5" y2="115"/>
<line x1="649.1" y1="4.9" x2="649.1" y2="115"/>
</g>
<!-- labels -->
<g class="tk" text-anchor="end">
<text x="534" y="8.8">2</text>
<text x="534" y="35.9">1</text>
<text x="534" y="63.3">0</text>
<text x="534" y="91.2">−1</text>
<text x="534" y="118">−2</text>
</g>
<g class="tk" text-anchor="middle">
<text x="537.5" y="127.4">−2</text>
<text x="564" y="127.4">−1</text>
<text x="592.4" y="127.4">0</text>
<text x="620" y="127.4">1</text>
<text x="647.7" y="127.4">2</text>
</g>
<text class="ax" x="592.7" y="145" text-anchor="middle">x</text>
<text class="ax" transform="translate(516.5,59.3) rotate(-90)" text-anchor="middle">t</text>
<!-- colorbar -->
<g>
<rect x="656.4" y="29" width="5.5" height="9.5" fill="#de2222"/>
<rect x="656.4" y="38.5" width="5.5" height="9.1" fill="#3b3fd6"/>
<rect x="656.4" y="47.5" width="5.5" height="9.2" fill="#3f33cc"/>
<rect x="656.4" y="56.6" width="5.5" height="9.2" fill="#472cc0"/>
<rect x="656.4" y="65.7" width="5.5" height="9.2" fill="#5226b4"/>
<rect x="656.4" y="74.8" width="5.5" height="9.2" fill="#5c23aa"/>
<rect x="656.4" y="83.9" width="5.5" height="9.4" fill="#6821a2"/>
<rect x="656.4" y="93.2" width="5.5" height="9.6" fill="#78209a"/>
<rect x="656.4" y="102.7" width="5.5" height="8.2" fill="#8a2092"/>
<g stroke="#2b0f66" stroke-width="0.4" stroke-opacity="0.7">
<line x1="656.4" y1="47.5" x2="661.9" y2="47.5"/><line x1="656.4" y1="56.6" x2="661.9" y2="56.6"/>
<line x1="656.4" y1="65.7" x2="661.9" y2="65.7"/><line x1="656.4" y1="74.8" x2="661.9" y2="74.8"/>
<line x1="656.4" y1="83.9" x2="661.9" y2="83.9"/><line x1="656.4" y1="93.2" x2="661.9" y2="93.2"/>
<line x1="656.4" y1="102.7" x2="661.9" y2="102.7"/>
</g>
</g>
<g stroke="#222" stroke-width="0.5">
<line x1="661.9" y1="38.5" x2="663.6" y2="38.5"/><line x1="661.9" y1="47.5" x2="663.6" y2="47.5"/><line x1="661.9" y1="56.6" x2="663.6" y2="56.6"/>
<line x1="661.9" y1="65.7" x2="663.6" y2="65.7"/><line x1="661.9" y1="74.8" x2="663.6" y2="74.8"/><line x1="661.9" y1="83.9" x2="663.6" y2="83.9"/>
<line x1="661.9" y1="93.2" x2="663.6" y2="93.2"/><line x1="661.9" y1="102.7" x2="663.6" y2="102.7"/>
</g>
<g class="tk" style="font-size:10.4px">
<text x="665" y="41.6">0.16</text>
<text x="665" y="50.8">0.14</text>
<text x="665" y="60.1">0.12</text>
<text x="665" y="69.2">0.10</text>
<text x="665" y="78.3">0.08</text>
<text x="665" y="87.4">0.06</text>
<text x="665" y="96.7">0.04</text>
<text x="665" y="106.4">0.02</text>
</g>
</g>

<!-- ===================== (d) Density Plot ===================== -->
<g id="plotD">
<defs>
<clipPath id="clipD"><rect x="174.9" y="279.4" width="110.9" height="109.9"/></clipPath>
<filter id="blurD" x="-30%" y="-30%" width="160%" height="160%"><feGaussianBlur stdDeviation="3.2"/></filter>
<filter id="blurD2" x="-30%" y="-30%" width="160%" height="160%"><feGaussianBlur stdDeviation="1.6"/></filter>
</defs>
<g clip-path="url(#clipD)">
<rect x="174" y="279" width="113" height="111" fill="#5f20a6"/>
<g filter="url(#blurD)">
<!-- magenta streak -->
<polygon points="170,336 240,331 240,336 170,362" fill="#8c1f8a" opacity="0.95"/>
<polygon points="190,318 222,300 226,318 196,330" fill="#7a2096" opacity="0.7"/>
<polygon points="236,284 275,281 240,305" fill="#742098" opacity="0.7"/>
<polygon points="250,322 284,303 284,318 250,328" fill="#782098" opacity="0.7"/>
<polygon points="170,372 290,342 290,395 170,395" fill="#6c20a0" opacity="0.7"/>
</g>
<g filter="url(#blurD2)" fill="none" stroke="#2f2ed8" stroke-width="4" stroke-linejoin="round">
<path d="M281.1,279.4 L261.8,290 L230.2,310.9 L217.4,325 L230.2,326.3 L285.8,297.7"/>
<path d="M285.8,321.2 L246.3,331.7 L236.2,337.1 L242.3,339.5 L261.1,336.4"/>
<path d="M217,279 C217,284 219,288 224,288.4 L230,287"/>
</g>
<g fill="#ffffff">
<path d="M216.9,279 C216.9,283.5 218.5,287.3 222,288.2 C225,288.9 228.2,288.3 230.3,286.8 L230.3,279 Z"/>
<rect x="229.6" y="279" width="1.4" height="33"/>
<path d="M280.6,279 L287,279 L287,297 C268,307 249,317 231,326.5 C227,328.3 221.5,328.2 219,326.5 C216.8,325 217,322.8 219.5,320.5 C223,317 227,313.5 230.8,310.5 C240,304 251,296.5 261.8,290 C268,286.3 274,282.8 280.6,279 Z"/>
<path d="M287,320.9 C273,324.4 259,328 246.3,331.7 C241,333.3 236.8,335.4 236.3,337 C236,338.6 238.5,339.8 242.3,339.5 C248,339 255,337.6 261.1,336.4 C264,335.6 266.5,334.8 269.2,334.4 C274,333.8 280,333.7 287,333.7 Z"/>
</g>
</g>
<!-- frame -->
<g stroke="#a8a8a8" stroke-width="0.7" fill="none">
<line x1="173.2" y1="277.2" x2="173.2" y2="391.4"/>
<line x1="173.2" y1="391.2" x2="288" y2="391.2"/>
</g>
<g stroke="#bdbdbd" stroke-width="0.6" fill="none">
<line x1="173.2" y1="277.2" x2="288" y2="277.2"/>
<line x1="287.8" y1="277.2" x2="287.8" y2="391.4"/>
</g>
<g stroke="#9a9a9a" stroke-width="0.6" stroke-dasharray="0.7 4.8">
<line x1="175" y1="278.1" x2="287" y2="278.1"/>
<line x1="175" y1="390.3" x2="287" y2="390.3"/>
</g>
<g stroke="#9a9a9a" stroke-width="0.6" stroke-dasharray="0.7 4.78">
<line x1="174.1" y1="280" x2="174.1" y2="390"/>
<line x1="286.9" y1="280" x2="286.9" y2="390"/>
</g>
<!-- labels -->
<g class="tk" text-anchor="end">
<text x="171" y="284">2</text>
<text x="171" y="311.4">1</text>
<text x="171" y="338.8">0</text>
<text x="171" y="366.2">−1</text>
<text x="171" y="393.6">−2</text>
</g>
<g class="tk" text-anchor="middle">
<text x="174.6" y="403">−2</text>
<text x="201.8" y="403">−1</text>
<text x="229.9" y="403">0</text>
<text x="257.6" y="403">1</text>
<text x="285.1" y="403">2</text>
</g>
<text class="ax" x="230.4" y="420" text-anchor="middle">x</text>
<text class="ax" transform="translate(154.5,334.4) rotate(-90)" text-anchor="middle">t</text>
<!-- colorbar -->
<rect x="294.1" y="305.8" width="5.6" height="80.7" fill="url(#rainbowV)"/>
<g class="tk" style="font-size:9.7px">
<text x="303.1" y="312.4">1.25</text>
<text x="303.1" y="328.1">1.00</text>
<text x="303.1" y="343.8">0.75</text>
<text x="303.1" y="359.5">0.50</text>
<text x="303.1" y="375.2">0.25</text>
<text x="303.1" y="390.4">0</text>
</g>
</g>

<!-- ===================== (e) Polar Plot ===================== -->
<g id="plotE">
<!-- axes -->
<g stroke="#6e6e6e" stroke-width="1.3" fill="none">
<line x1="372" y1="289.9" x2="529.5" y2="289.9"/>
<line x1="467.5" y1="199.5" x2="467.5" y2="422.8"/>
</g>
<!-- ticks -->
<g stroke="#6e6e6e" stroke-width="0.7" fill="none">
<!-- x major -->
<path d="M376.7,289.9v-2.6 M406.8,289.9v-2.6 M436.9,289.9v-2.6 M497.1,289.9v-2.6 M527.2,289.9v-2.6"/>
<!-- x minor -->
<path d="M382.7,289.9v-1.6 M388.7,289.9v-1.6 M394.8,289.9v-1.6 M400.8,289.9v-1.6 M412.8,289.9v-1.6 M418.8,289.9v-1.6 M424.9,289.9v-1.6 M430.9,289.9v-1.6 M442.9,289.9v-1.6 M448.9,289.9v-1.6 M455,289.9v-1.6 M461,289.9v-1.6 M473,289.9v-1.6 M479,289.9v-1.6 M485.1,289.9v-1.6 M491.1,289.9v-1.6 M503.1,289.9v-1.6 M509.1,289.9v-1.6 M515.2,289.9v-1.6 M521.2,289.9v-1.6"/>
<!-- y major -->
<path d="M467.5,199.7h2.6 M467.5,229.8h2.6 M467.5,259.9h2.6 M467.5,320h2.6 M467.5,350.1h2.6 M467.5,380.2h2.6 M467.5,410.3h2.6"/>
<!-- y minor -->
<path d="M467.5,205.7h1.6 M467.5,211.7h1.6 M467.5,217.8h1.6 M467.5,223.8h1.6 M467.5,235.8h1.6 M467.5,241.8h1.6 M467.5,247.9h1.6 M467.5,253.9h1.6 M467.5,265.9h1.6 M467.5,271.9h1.6 M467.5,278h1.6 M467.5,284h1.6 M467.5,296h1.6 M467.5,302h1.6 M467.5,308h1.6 M467.5,314h1.6 M467.5,326h1.6 M467.5,332h1.6 M467.5,338.1h1.6 M467.5,344.1h1.6 M467.5,356.1h1.6 M467.5,362.1h1.6 M467.5,368.2h1.6 M467.5,374.2h1.6 M467.5,386.2h1.6 M467.5,392.2h1.6 M467.5,398.3h1.6 M467.5,404.3h1.6 M467.5,416.3h1.6 M467.5,422.3h1.6"/>
</g>
<!-- curves -->
<g fill="none" stroke-width="1">
<path d="M371.5,279.0 C374.6,278.8 383.9,278.1 390.0,277.8 C396.1,277.5 401.7,277.3 408.4,277.4 C415.1,277.4 423.9,277.8 430.0,278.1 C436.1,278.5 440.8,278.9 445.0,279.5 C449.2,280.1 452.2,280.6 455.0,281.4 C457.8,282.2 459.9,282.9 462.0,284.3 C464.1,285.7 466.4,288.9 467.3,289.8" stroke="#4a2cc0"/>
<path d="M371.5,298.6 C374.4,297.7 383.1,295.0 389.0,293.4 C394.9,291.8 401.6,290.0 406.8,288.7 C412.0,287.4 415.6,286.6 420.0,285.8 C424.4,285.0 429.3,284.2 433.5,283.6 C437.7,283.0 441.4,282.7 445.0,282.4 C448.6,282.1 452.2,281.8 455.0,282.0 C457.8,282.2 459.9,282.5 462.0,283.8 C464.1,285.1 466.5,288.8 467.4,289.8" stroke="#3f9a78"/>
<path d="M371.3,352.7 C374.2,351.4 383.0,347.4 389.0,344.6 C395.0,341.8 401.4,338.6 407.1,335.9 C412.8,333.2 417.8,330.8 423.0,328.2 C428.2,325.6 434.3,322.5 438.5,320.2 C442.7,317.9 445.1,316.4 448.0,314.5 C450.9,312.6 453.4,310.9 455.7,309.0 C458.0,307.1 460.3,304.8 462.0,303.0 C463.7,301.2 465.0,299.5 466.0,298.0 C467.0,296.5 467.5,295.3 467.8,294.0 C468.1,292.7 467.6,290.7 467.6,290.0" stroke="#3a3fd6"/>
<path d="M371.3,401.7 C373.4,400.0 379.7,394.9 384.0,391.3 C388.3,387.7 392.6,383.8 396.9,380.0 C401.2,376.2 405.7,372.2 410.0,368.4 C414.3,364.6 417.6,362.0 422.8,357.1 C428.1,352.2 435.3,345.0 441.5,339.0 C447.7,333.0 456.1,325.1 460.0,321.0 C463.9,316.9 463.6,316.9 465.0,314.7 C466.4,312.4 467.6,309.9 468.5,307.5 C469.4,305.1 470.1,302.4 470.5,300.5 C470.9,298.6 470.8,297.2 470.6,295.8 C470.4,294.4 469.9,293.0 469.4,292.0 C468.9,291.0 468.1,290.3 467.8,290.0" stroke="#78b050"/>
<path d="M431.7,423.4 C431.9,420.8 432.2,413.0 432.6,408.0 C433.0,403.0 433.3,399.0 433.8,393.5 C434.3,388.0 434.8,381.1 435.4,375.0 C436.0,368.9 437.0,361.8 437.7,357.1 C438.4,352.4 438.6,350.1 439.3,347.0 C440.0,343.9 440.7,342.5 441.6,338.3 C442.6,334.1 443.7,327.2 445.0,322.0 C446.3,316.8 448.0,310.9 449.4,306.8 C450.8,302.7 451.9,300.1 453.5,297.5 C455.1,294.9 457.2,292.6 458.8,291.3 C460.4,290.0 461.6,289.8 463.0,289.6 C464.4,289.4 466.8,289.8 467.5,289.9" stroke="#e8792e"/>
<path d="M477.7,290.0 C478.9,291.2 482.6,294.2 485.0,297.0 C487.4,299.8 489.7,303.7 491.8,306.8 C493.9,309.9 495.7,312.8 497.5,315.8 C499.3,318.8 500.6,320.9 502.8,325.0 C505.1,329.1 508.6,335.7 511.0,340.5 C513.4,345.3 515.3,349.4 517.3,354.0 C519.3,358.6 521.6,363.9 523.2,367.9 C524.8,371.9 525.7,374.5 526.8,378.0 C527.9,381.5 529.4,386.9 529.9,388.7" stroke="#dd2c22"/>
</g>
<!-- labels -->
<g class="tkp" text-anchor="end">
<text x="465.4" y="205.2">1.5</text>
<text x="465.4" y="235.3">1.0</text>
<text x="465.4" y="265.4">0.5</text>
<text x="465.4" y="325.8">−0.5</text>
<text x="465.4" y="356.4">−1.0</text>
<text x="465.4" y="386.6">−1.5</text>
<text x="465.4" y="416.9">−2.0</text>
</g>
<g class="tkp" text-anchor="middle">
<text x="376.7" y="304.9">−1.5</text>
<text x="407.2" y="304.9">−1.0</text>
<text x="437" y="304.9">−0.5</text>
<text x="498.1" y="305.3">0.5</text>
<text x="527.6" y="305.3">1.0</text>
</g>
<text class="ax" style="font-size:18.5px" x="467.5" y="191.6" text-anchor="middle">t</text>
<text class="ax" style="font-size:18.5px" x="534.3" y="296">x</text>
</g>

<!-- captions -->
<g class="cap">
<text x="58.4" y="167" textLength="66.6" lengthAdjust="spacingAndGlyphs">(a) 3D Plot</text>
<text x="310.5" y="167" textLength="66.7" lengthAdjust="spacingAndGlyphs">(b) 2D Plot</text>
<text x="547" y="167" textLength="96.3" lengthAdjust="spacingAndGlyphs">(c) Contour Plot</text>
<text x="186.1" y="443" textLength="93.7" lengthAdjust="spacingAndGlyphs">(d) Density Plot</text>
<text x="414.5" y="442.5" textLength="79" lengthAdjust="spacingAndGlyphs">(e) Polar Plot</text>
</g>
</svg>
</body>
</html>
